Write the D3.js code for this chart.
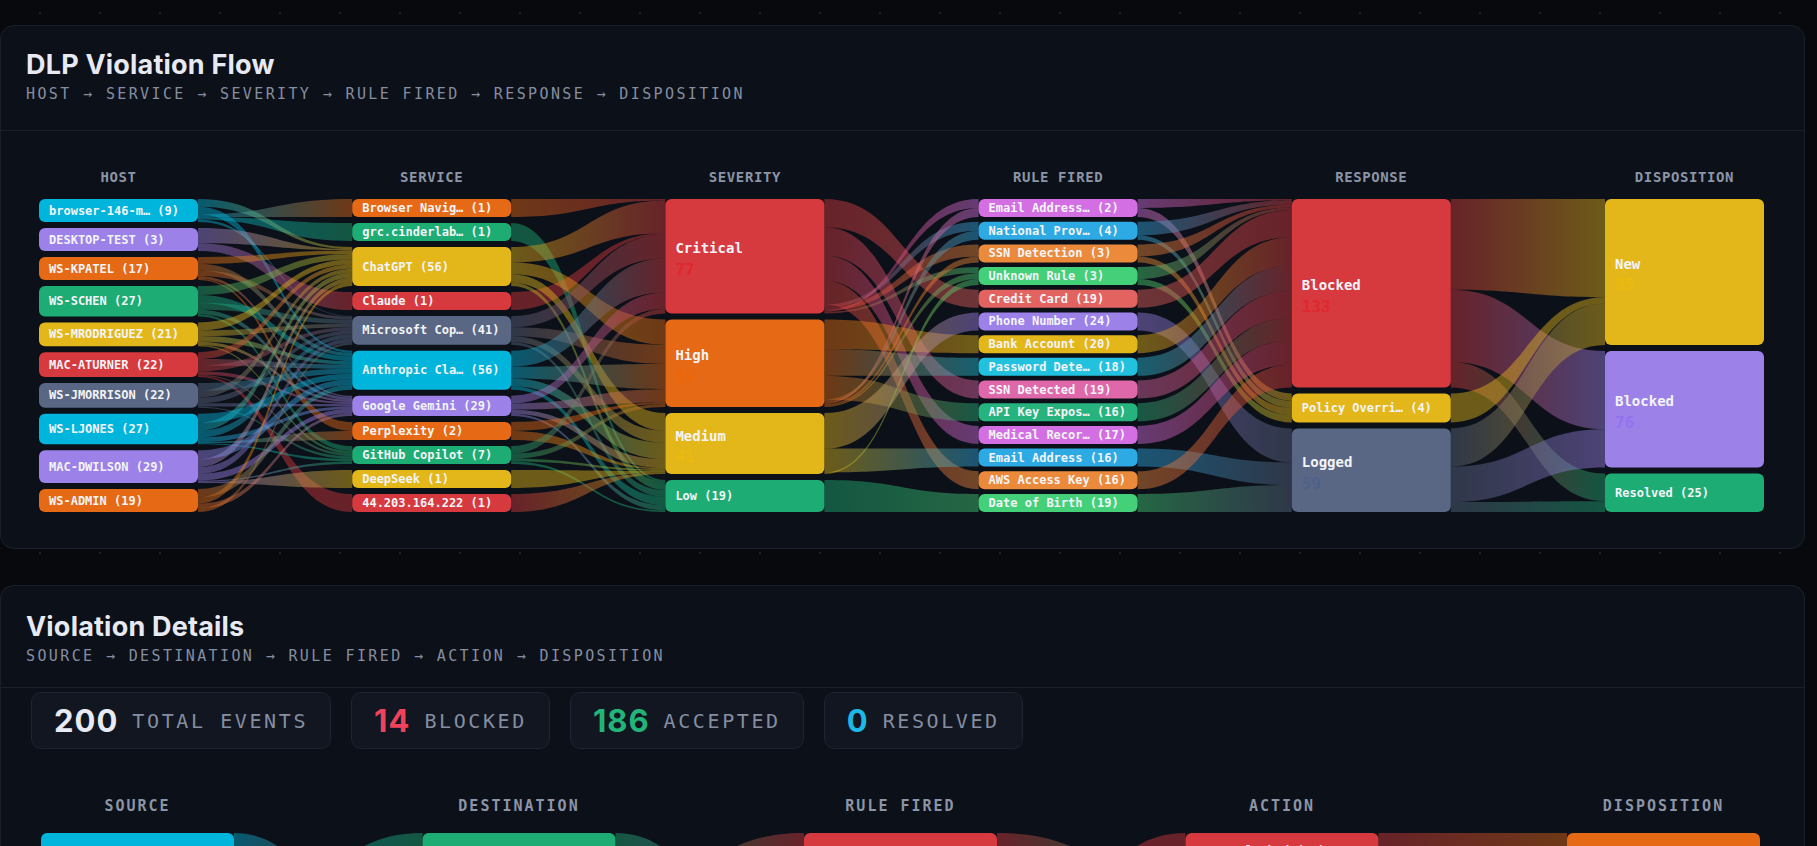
<!DOCTYPE html>
<html>
<head>
<meta charset="utf-8">
<title>DLP Violation Flow</title>
<script src="https://cdn.jsdelivr.net/npm/d3@7"></script>
<style>
	html, body {
		margin: 0;
		padding: 0;
	}
	body {
		width: 1817px;
		height: 846px;
		overflow: hidden;
		position: relative;
		background-color: #08090d;
		background-image: radial-gradient(circle, #1a1f29 1px, transparent 1.6px);
		background-size: 60px 60px;
		background-position: 10px -17px;
	}
	.panel {
		position: absolute;
		left: 0;
		width: 1805px;
		box-sizing: border-box;
		background: #0c1018;
		border: 1px solid #1a202b;
		border-radius: 14px;
		overflow: hidden;
	}
	#flow-panel { top: 25px; height: 524px; }
	#details-panel { top: 585px; height: 261px; border-bottom: none; border-radius: 14px 14px 0 0; }
	.panel-head {
		position: absolute;
		left: 0; top: 0; right: 0;
		height: 104px;
		border-bottom: 1px solid #1a202b;
	}
	#details-panel .panel-head { height: 101px; }
	.panel-head h2 {
		position: absolute;
		left: 25px; top: 23px;
		margin: 0;
		font-family: Inter, "Noto Sans", sans-serif;
		font-weight: 700;
		font-size: 27px;
		line-height: 32px;
		letter-spacing: 0.2px;
		color: #e7eaf2;
	}
	.panel-head .sub {
		position: absolute;
		left: 25px; top: 59px;
		font-family: "DejaVu Sans Mono", monospace;
		font-size: 15px;
		line-height: 18px;
		letter-spacing: 2.38px;
		color: #858ea1;
	}
	#details-panel .panel-head h2 { top: 25px; }
	#details-panel .panel-head .sub { top: 61px; }
	.panel svg {
		position: absolute;
		left: 0; top: 0;
	}
	.stats {
		position: absolute;
		left: 30px; top: 106px;
		display: flex;
		gap: 20px;
	}
	.stat {
		height: 57px;
		box-sizing: border-box;
		padding: 0 22px;
		display: flex;
		align-items: center;
		gap: 14px;
		background: #111620;
		border: 1px solid #1e2431;
		border-radius: 10px;
	}
	.stat .num {
		font-family: Inter, sans-serif;
		font-weight: 700;
		font-size: 31px;
		letter-spacing: 1px;
	}
	.stat .lbl {
		font-family: "DejaVu Sans Mono", monospace;
		font-size: 20px;
		letter-spacing: 2.6px;
		color: #858ea1;
	}
</style>
</head>
<body>

<div class="panel" id="flow-panel">
	<div class="panel-head">
		<h2>DLP Violation Flow</h2>
		<div class="sub" id="flow-sub"></div>
	</div>
	<svg id="flow-chart" width="1805" height="524"></svg>
</div>

<div class="panel" id="details-panel">
	<div class="panel-head">
		<h2>Violation Details</h2>
		<div class="sub" id="details-sub"></div>
	</div>
	<div class="stats" id="stats"></div>
	<svg id="details-chart" width="1805" height="261"></svg>
</div>

<script>
// ---------- DLP violation flow: node names per column ----------
const hosts = ["browser-146-macbook", "DESKTOP-TEST", "WS-KPATEL", "WS-SCHEN", "WS-MRODRIGUEZ", "MAC-ATURNER", "WS-JMORRISON", "WS-LJONES", "MAC-DWILSON", "WS-ADMIN"];
const services = ["Browser Navigation", "grc.cinderlabs.com", "ChatGPT", "Claude", "Microsoft Copilot", "Anthropic Claude", "Google Gemini", "Perplexity", "GitHub Copilot", "DeepSeek", "44.203.164.222"];
const severities = ["Critical", "High", "Medium", "Low"];
const rules = ["Email Addresses", "National Provider ID", "SSN Detection", "Unknown Rule", "Credit Card", "Phone Number", "Bank Account", "Password Detected", "SSN Detected", "API Key Exposure", "Medical Records", "Email Address", "AWS Access Key", "Date of Birth"];
const responses = ["Blocked", "Policy Override", "Logged"];
const dispositions = ["New", "Blocked", "Resolved"];

// links as [source, target, events]
const hostServiceLinks = [
	["browser-146-macbook", "Browser Navigation", 1], ["browser-146-macbook", "grc.cinderlabs.com", 1], ["browser-146-macbook", "ChatGPT", 3], ["browser-146-macbook", "Anthropic Claude", 3], ["browser-146-macbook", "Microsoft Copilot", 1],
	["DESKTOP-TEST", "ChatGPT", 2], ["DESKTOP-TEST", "Claude", 1],
	["WS-KPATEL", "ChatGPT", 5], ["WS-KPATEL", "Microsoft Copilot", 4], ["WS-KPATEL", "Anthropic Claude", 5], ["WS-KPATEL", "Google Gemini", 2], ["WS-KPATEL", "Perplexity", 1],
	["WS-SCHEN", "ChatGPT", 8], ["WS-SCHEN", "Microsoft Copilot", 6], ["WS-SCHEN", "Anthropic Claude", 7], ["WS-SCHEN", "Google Gemini", 4], ["WS-SCHEN", "GitHub Copilot", 2],
	["WS-MRODRIGUEZ", "ChatGPT", 7], ["WS-MRODRIGUEZ", "Microsoft Copilot", 5], ["WS-MRODRIGUEZ", "Anthropic Claude", 5], ["WS-MRODRIGUEZ", "Google Gemini", 3], ["WS-MRODRIGUEZ", "GitHub Copilot", 1],
	["MAC-ATURNER", "ChatGPT", 6], ["MAC-ATURNER", "Microsoft Copilot", 5], ["MAC-ATURNER", "Anthropic Claude", 6], ["MAC-ATURNER", "Google Gemini", 3], ["MAC-ATURNER", "GitHub Copilot", 1], ["MAC-ATURNER", "44.203.164.222", 1],
	["WS-JMORRISON", "ChatGPT", 6], ["WS-JMORRISON", "Microsoft Copilot", 5], ["WS-JMORRISON", "Anthropic Claude", 7], ["WS-JMORRISON", "Google Gemini", 3], ["WS-JMORRISON", "GitHub Copilot", 1],
	["WS-LJONES", "ChatGPT", 7], ["WS-LJONES", "Microsoft Copilot", 6], ["WS-LJONES", "Anthropic Claude", 8], ["WS-LJONES", "Google Gemini", 4], ["WS-LJONES", "GitHub Copilot", 1], ["WS-LJONES", "Perplexity", 1],
	["MAC-DWILSON", "ChatGPT", 7], ["MAC-DWILSON", "Microsoft Copilot", 6], ["MAC-DWILSON", "Anthropic Claude", 8], ["MAC-DWILSON", "Google Gemini", 6], ["MAC-DWILSON", "GitHub Copilot", 1], ["MAC-DWILSON", "DeepSeek", 1],
	["WS-ADMIN", "ChatGPT", 5], ["WS-ADMIN", "Microsoft Copilot", 3], ["WS-ADMIN", "Anthropic Claude", 7], ["WS-ADMIN", "Google Gemini", 4]
];

const serviceSeverityLinks = [
	["Browser Navigation", "Critical", 1], ["grc.cinderlabs.com", "Low", 1], ["Claude", "Critical", 1],
	["ChatGPT", "Critical", 22], ["ChatGPT", "High", 17], ["ChatGPT", "Medium", 12], ["ChatGPT", "Low", 5],
	["Microsoft Copilot", "Critical", 16], ["Microsoft Copilot", "High", 13], ["Microsoft Copilot", "Medium", 8], ["Microsoft Copilot", "Low", 4],
	["Anthropic Claude", "Critical", 23], ["Anthropic Claude", "High", 17], ["Anthropic Claude", "Medium", 11], ["Anthropic Claude", "Low", 5],
	["Google Gemini", "Critical", 11], ["Google Gemini", "High", 9], ["Google Gemini", "Medium", 6], ["Google Gemini", "Low", 3],
	["Perplexity", "High", 1], ["Perplexity", "Medium", 1],
	["GitHub Copilot", "Critical", 3], ["GitHub Copilot", "High", 2], ["GitHub Copilot", "Medium", 1], ["GitHub Copilot", "Low", 1],
	["DeepSeek", "Medium", 1], ["44.203.164.222", "Medium", 1]
];

const severityRuleLinks = [
	["Critical", "Credit Card", 19], ["Critical", "SSN Detected", 19], ["Critical", "Medical Records", 17], ["Critical", "AWS Access Key", 16],
	["Critical", "Email Addresses", 1], ["Critical", "National Provider ID", 2], ["Critical", "SSN Detection", 2], ["Critical", "Unknown Rule", 1],
	["High", "Bank Account", 20], ["High", "Password Detected", 18], ["High", "API Key Exposure", 16],
	["High", "Email Addresses", 1], ["High", "National Provider ID", 2], ["High", "SSN Detection", 1], ["High", "Unknown Rule", 1],
	["Medium", "Phone Number", 24], ["Medium", "Email Address", 16], ["Medium", "Unknown Rule", 1],
	["Low", "Date of Birth", 19]
];

const ruleResponseLinks = [
	["Email Addresses", "Blocked", 1], ["Email Addresses", "Policy Override", 1],
	["National Provider ID", "Blocked", 3], ["National Provider ID", "Policy Override", 1],
	["SSN Detection", "Blocked", 2], ["SSN Detection", "Policy Override", 1],
	["Unknown Rule", "Blocked", 2], ["Unknown Rule", "Policy Override", 1],
	["Credit Card", "Blocked", 19], ["Phone Number", "Logged", 24], ["Bank Account", "Blocked", 20],
	["Password Detected", "Blocked", 18], ["SSN Detected", "Blocked", 19], ["API Key Exposure", "Blocked", 16],
	["Medical Records", "Blocked", 17], ["Email Address", "Logged", 16], ["AWS Access Key", "Blocked", 16],
	["Date of Birth", "Logged", 19]
];

const responseDispositionLinks = [
	["Blocked", "New", 64], ["Blocked", "Blocked", 51], ["Blocked", "Resolved", 18],
	["Policy Override", "New", 4],
	["Logged", "New", 27], ["Logged", "Blocked", 25], ["Logged", "Resolved", 7]
];

// ---------- violation details ----------
const detailSources = ["Browser Extension", "Endpoint Agent", "Network Proxy"];
const detailDestinations = ["chat.openai.com", "claude.ai", "copilot.microsoft.com", "gemini.google.com"];
const detailRules = ["Credit Card", "Phone Number", "SSN Detected", "API Key Exposure"];
const detailActions = ["Blocked", "Accepted"];
const detailDispositions = ["New"];

const sourceDestLinks = [
	["Browser Extension", "claude.ai", 40], ["Browser Extension", "chat.openai.com", 30], ["Browser Extension", "gemini.google.com", 16], ["Browser Extension", "copilot.microsoft.com", 10],
	["Endpoint Agent", "chat.openai.com", 30], ["Endpoint Agent", "copilot.microsoft.com", 22], ["Endpoint Agent", "claude.ai", 12], ["Endpoint Agent", "gemini.google.com", 8],
	["Network Proxy", "chat.openai.com", 14], ["Network Proxy", "gemini.google.com", 10], ["Network Proxy", "copilot.microsoft.com", 8]
];
const destRuleLinks = [
	["chat.openai.com", "Phone Number", 30], ["chat.openai.com", "Credit Card", 20], ["chat.openai.com", "SSN Detected", 14], ["chat.openai.com", "API Key Exposure", 10],
	["claude.ai", "Credit Card", 26], ["claude.ai", "Phone Number", 10], ["claude.ai", "API Key Exposure", 10], ["claude.ai", "SSN Detected", 6],
	["copilot.microsoft.com", "API Key Exposure", 16], ["copilot.microsoft.com", "Credit Card", 12], ["copilot.microsoft.com", "SSN Detected", 8], ["copilot.microsoft.com", "Phone Number", 4],
	["gemini.google.com", "Credit Card", 12], ["gemini.google.com", "Phone Number", 10], ["gemini.google.com", "SSN Detected", 8], ["gemini.google.com", "API Key Exposure", 4]
];
const ruleActionLinks = [
	["Credit Card", "Blocked", 8], ["Credit Card", "Accepted", 62],
	["Phone Number", "Accepted", 54],
	["SSN Detected", "Blocked", 6], ["SSN Detected", "Accepted", 30],
	["API Key Exposure", "Accepted", 40]
];
const actionDispositionLinks = [
	["Blocked", "New", 14], ["Accepted", "New", 186]
];

// ---------- colours ----------
const C = {
	cyan: "#00b5db", purple: "#9c81e9", orange: "#e66a15", green: "#1dac74",
	yellow: "#e3b71a", red: "#d6393e", slate: "#5a6784",
	magenta: "#d46fe3", blue: "#2da9e3", amber: "#eb8a3b", lime: "#43d078",
	salmon: "#e36360", aqua: "#22c2de", pink: "#df68ab", teal: "#26b37e"
};
const baseCycle = [C.cyan, C.purple, C.orange, C.green, C.yellow, C.red, C.slate];
const ruleCycle = [C.magenta, C.blue, C.amber, C.lime, C.salmon, C.purple, C.yellow, C.aqua, C.pink, C.teal];

const cycleFrom = (cycle, start, n) => d3.range(n).map(i => cycle[(start + i) % cycle.length]);

const truncate = s => s.length > 14 ? s.slice(0, 13) + "…" : s;

class FlowSankey {

	constructor(_config, columns, stages) {
		this.config = _config;
		this.columns = columns;
		this.stages = stages;
		this.initVis();
	}

	initVis() {
		let vis = this;

		vis.svg = d3.select(vis.config.parentElement);
		vis.defs = vis.svg.append('defs');
		vis.headerArea = vis.svg.append('g');
		vis.linkArea = vis.svg.append('g');
		vis.nodeArea = vis.svg.append('g');

		vis.xScale = d3.scalePoint()
			.domain(d3.range(vis.columns.length))
			.range([vis.config.x0, vis.config.x1 - vis.config.nodeWidth]);

		vis.updateVis();
	}

	updateVis() {
		let vis = this;
		const cfg = vis.config;

		vis.nodesByCol = vis.columns.map((c, ci) => c.names.map((name, i) => ({
			col: ci, index: i, name: name, color: c.colors[i], in: [], out: []
		})));

		vis.links = [];
		vis.stages.forEach((stage, si) => {
			stage.forEach(([s, t, v]) => {
				const source = vis.nodesByCol[si].find(d => d.name === s);
				const target = vis.nodesByCol[si + 1].find(d => d.name === t);
				const link = { source: source, target: target, value: v, id: cfg.id + '-l' + vis.links.length };
				source.out.push(link);
				target.in.push(link);
				vis.links.push(link);
			});
		});

		// each column fills the full height on its own scale, with a minimum box height
		vis.nodesByCol.forEach((nodes, ci) => {
			nodes.forEach(d => {
				d.value = Math.max(d3.sum(d.in, l => l.value), d3.sum(d.out, l => l.value));
				d.x0 = vis.xScale(ci);
				d.x1 = d.x0 + cfg.nodeWidth;
			});

			const n = nodes.length;
			const minH = cfg.minHeights[ci];
			const avail = cfg.bottom - cfg.top;
			let pad = cfg.padding;
			if (n > 1 && n * minH + (n - 1) * pad > avail) pad = (avail - n * minH) / (n - 1);

			let lo = 0, hi = 50;
			for (let i = 0; i < 60; i++) {
				const mid = (lo + hi) / 2;
				const total = d3.sum(nodes, d => Math.max(minH, d.value * mid)) + (n - 1) * pad;
				if (total > avail) hi = mid; else lo = mid;
			}
			const hScale = d3.scaleLinear().domain([0, 1]).range([0, lo]);

			let y = cfg.top;
			nodes.forEach(d => {
				d.h = Math.max(minH, hScale(d.value));
				d.y0 = y;
				d.y1 = y + d.h;
				y = d.y1 + pad;
			});
		});

		// slots of the ribbons on each box
		vis.nodesByCol.flat().forEach(d => {
			const f = d.h / d.value;
			d.out.sort((a, b) => b.value - a.value || a.target.index - b.target.index);
			let y = d.y0;
			d.out.forEach(l => { l.sy0 = y; y += l.value * f; l.sy1 = y; });
			d.in.sort((a, b) => a.source.index - b.source.index);
			y = d.y0;
			d.in.forEach(l => { l.ty0 = y; y += l.value * f; l.ty1 = y; });
		});

		vis.renderVis();
	}

	renderVis() {
		let vis = this;
		const cfg = vis.config;

		vis.headerArea.selectAll('.col-title')
			.data(vis.columns)
			.join('text')
			.attr('class', 'col-title')
			.attr('x', (d, i) => vis.xScale(i) + cfg.nodeWidth / 2)
			.attr('y', cfg.headerY)
			.attr('text-anchor', 'middle')
			.attr('dominant-baseline', 'central')
			.attr('fill', '#8b95a7')
			.attr('font-family', '"DejaVu Sans Mono", monospace')
			.attr('font-weight', 'bold')
			.attr('font-size', cfg.headerSize)
			.attr('letter-spacing', cfg.headerSpacing)
			.text(d => d.title);

		const grads = vis.defs.selectAll('linearGradient')
			.data(vis.links)
			.join('linearGradient')
			.attr('id', d => d.id)
			.attr('gradientUnits', 'userSpaceOnUse')
			.attr('x1', d => d.source.x1)
			.attr('x2', d => d.target.x0);
		grads.selectAll('stop')
			.data(d => [[0, d.source.color], [1, d.target.color]])
			.join('stop')
			.attr('offset', d => d[0])
			.attr('stop-color', d => d[1]);

		const ribbon = l => {
			const sx = l.source.x1, tx = l.target.x0, mx = (sx + tx) / 2;
			return `M${sx},${l.sy0}C${mx},${l.sy0} ${mx},${l.ty0} ${tx},${l.ty0}` +
				`L${tx},${l.ty1}C${mx},${l.ty1} ${mx},${l.sy1} ${sx},${l.sy1}Z`;
		};

		vis.linkArea.selectAll('.flow-link')
			.data(vis.links)
			.join('path')
			.attr('class', 'flow-link')
			.attr('d', ribbon)
			.attr('fill', d => `url(#${d.id})`)
			.attr('fill-opacity', 0.45);

		const nodes = vis.nodeArea.selectAll('.flow-node')
			.data(vis.nodesByCol.flat())
			.join('g')
			.attr('class', 'flow-node')
			.attr('transform', d => `translate(${d.x0},${d.y0})`);

		nodes.append('rect')
			.attr('width', cfg.nodeWidth)
			.attr('height', d => d.h)
			.attr('rx', d => Math.min(6, d.h / 2))
			.attr('fill', d => d.color);

		const tall = d => d.h >= cfg.twoLine;
		const tx = cfg.centerLabels ? cfg.nodeWidth / 2 : 10;
		const anchor = cfg.centerLabels ? 'middle' : 'start';

		nodes.filter(d => !tall(d)).append('text')
			.attr('x', tx)
			.attr('y', d => d.h / 2)
			.attr('text-anchor', anchor)
			.attr('dominant-baseline', 'central')
			.attr('fill', '#f3f4f8')
			.attr('font-family', '"DejaVu Sans Mono", monospace')
			.attr('font-weight', 'bold')
			.attr('font-size', 12)
			.text(d => `${truncate(d.name)} (${d.value})`);

		// count in a faintly more saturated tint of the box colour
		const tint = c => {
			const h = d3.hsl(c);
			h.s = Math.min(1, h.s + 0.1);
			h.l = h.l * 0.98;
			return h.formatHex();
		};

		const big = nodes.filter(tall);
		big.append('text')
			.attr('x', tx)
			.attr('y', d => d.h / 2 - 8)
			.attr('text-anchor', anchor)
			.attr('dominant-baseline', 'central')
			.attr('fill', '#f3f4f8')
			.attr('font-family', '"DejaVu Sans Mono", monospace')
			.attr('font-weight', 'bold')
			.attr('font-size', 14)
			.text(d => d.name);
		big.append('text')
			.attr('x', tx)
			.attr('y', d => d.h / 2 + 13)
			.attr('text-anchor', anchor)
			.attr('dominant-baseline', 'central')
			.attr('fill', d => tint(d.color))
			.attr('font-family', '"DejaVu Sans Mono", monospace')
			.attr('font-weight', 'bold')
			.attr('font-size', 16)
			.text(d => d.value);
	}
}

// ---------- build ----------
const flowColumns = [
	{ title: "HOST", names: hosts, colors: cycleFrom(baseCycle, 0, hosts.length) },
	{ title: "SERVICE", names: services, colors: cycleFrom(baseCycle, 2, services.length) },
	{ title: "SEVERITY", names: severities, colors: [C.red, C.orange, C.yellow, C.green] },
	{ title: "RULE FIRED", names: rules, colors: cycleFrom(ruleCycle, 0, rules.length) },
	{ title: "RESPONSE", names: responses, colors: [C.red, C.yellow, C.slate] },
	{ title: "DISPOSITION", names: dispositions, colors: [C.yellow, C.purple, C.green] }
];

const detailColumns = [
	{ title: "SOURCE", names: detailSources, colors: [C.cyan, C.purple, C.orange] },
	{ title: "DESTINATION", names: detailDestinations, colors: [C.green, C.red, C.slate, C.purple] },
	{ title: "RULE FIRED", names: detailRules, colors: [C.red, C.purple, C.pink, C.green] },
	{ title: "ACTION", names: detailActions, colors: [C.red, C.green] },
	{ title: "DISPOSITION", names: detailDispositions, colors: [C.orange] }
];

const arrowLine = cols => cols.map(c => c.title).join(" \u2192 ");
d3.select('#flow-sub').text(arrowLine(flowColumns));
d3.select('#details-sub').text(arrowLine(detailColumns));

new FlowSankey({
	parentElement: '#flow-chart', id: 'flow',
	x0: 38, x1: 1763, nodeWidth: 159,
	top: 173, bottom: 486, headerY: 151,
	headerSize: 14, headerSpacing: 0.6,
	padding: 6, minHeights: [23, 18, 32, 18, 29, 18],
	twoLine: 50, centerLabels: false
}, flowColumns, [hostServiceLinks, serviceSeverityLinks, severityRuleLinks, ruleResponseLinks, responseDispositionLinks]);

new FlowSankey({
	parentElement: '#details-chart', id: 'det',
	x0: 40, x1: 1759, nodeWidth: 193,
	top: 247, bottom: 647, headerY: 220,
	headerSize: 15, headerSpacing: 2,
	padding: 10, minHeights: [24, 24, 24, 35, 24],
	twoLine: 50, centerLabels: true
}, detailColumns, [sourceDestLinks, destRuleLinks, ruleActionLinks, actionDispositionLinks]);

// ---------- summary cards ----------
const totalEvents = d3.sum(sourceDestLinks, d => d[2]);
const blockedEvents = d3.sum(ruleActionLinks.filter(d => d[1] === "Blocked"), d => d[2]);
const acceptedEvents = d3.sum(ruleActionLinks.filter(d => d[1] === "Accepted"), d => d[2]);
const resolvedEvents = d3.sum(actionDispositionLinks.filter(d => d[1] === "Resolved"), d => d[2]);

const statCards = [
	{ value: totalEvents, label: "TOTAL EVENTS", color: "#e8ebf3" },
	{ value: blockedEvents, label: "BLOCKED", color: "#f0425b" },
	{ value: acceptedEvents, label: "ACCEPTED", color: "#22b579" },
	{ value: resolvedEvents, label: "RESOLVED", color: "#1cb9e6" }
];

const cards = d3.select('#stats').selectAll('.stat')
	.data(statCards)
	.join('div')
	.attr('class', 'stat');
cards.append('span').attr('class', 'num').style('color', d => d.color).text(d => d.value);
cards.append('span').attr('class', 'lbl').text(d => d.label);
</script>
</body>
</html>
